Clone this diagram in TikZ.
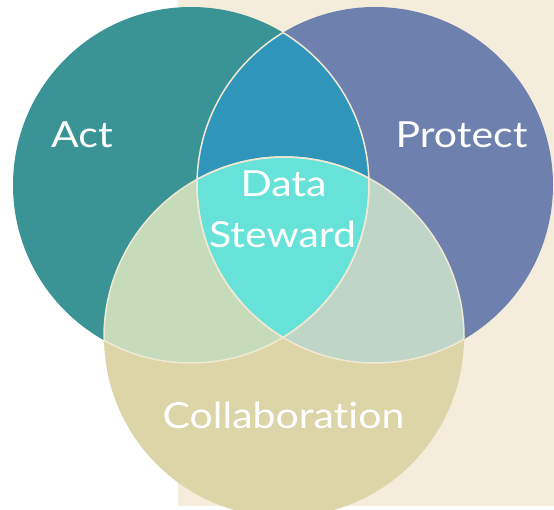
\documentclass[tikz,border=0pt]{standalone}
\usepackage{fontspec}
\setmainfont{Lato}[FakeStretch=1.14,Ligatures=NoCommon]
\usepackage{tikz}

\definecolor{actTeal}{HTML}{3A9394}
\definecolor{protectBlue}{HTML}{6E81AE}
\definecolor{collabKhaki}{HTML}{DBD5A8}
\definecolor{apBlue}{HTML}{2F95BA}
\definecolor{acGreen}{HTML}{C6DBB9}
\definecolor{pcGreen}{HTML}{BFD5C8}
\definecolor{stewardCyan}{HTML}{66E2D8}
\definecolor{paperBeige}{HTML}{F5EDDC}
\definecolor{edgeCream}{HTML}{F1E8D3}

\newcommand{\circAct}{(191,324) circle (178)}
\newcommand{\circProtect}{(375,324) circle (178)}
\newcommand{\circCollab}{(284,172) circle (180)}
\newcommand{\drawLens}[3]{% clip: #1, filled circle: #2, colour: #3
  \begin{scope}
    \clip #1;
    \fill[#3] #2;
  \end{scope}
}
\newcommand{\drawEdge}[2]{% edge of #1 inside #2
  \begin{scope}
    \clip #2;
    \draw[edgeCream,line width=1.5pt] #1;
  \end{scope}
}

\begin{document}
\begin{tikzpicture}[x=1pt,y=1pt,
  vennText/.style={text=white,font=\fontsize{36}{36}\selectfont,anchor=base}]
% Page and background
\useasboundingbox (0,0) rectangle (554,509);
\clip (0,0) rectangle (554,509);
\fill[paperBeige] (178,3) rectangle (554,509);

% Circles
\fill[actTeal] \circAct;
\fill[protectBlue] \circProtect;
\fill[collabKhaki] \circCollab;

% Pairwise overlaps
\drawLens{\circAct}{\circProtect}{apBlue}
\drawLens{\circAct}{\circCollab}{acGreen}
\drawLens{\circProtect}{\circCollab}{pcGreen}

% Centre
\begin{scope}
  \clip \circAct;
  \clip \circProtect;
  \fill[stewardCyan] \circCollab;
\end{scope}

% Inner edges
\drawEdge{\circAct}{\circProtect}
\drawEdge{\circAct}{\circCollab}
\drawEdge{\circProtect}{\circAct}
\drawEdge{\circProtect}{\circCollab}
\drawEdge{\circCollab}{\circAct}
\drawEdge{\circCollab}{\circProtect}

% Labels
\node[vennText] (act) at (82,361) {Act};
\node[vennText] (protect) at (461.5,361) {Protect};
\node[vennText] (data) at (283.5,312) {Data};
\node[vennText] (steward) at (282.5,261) {Steward};
\node[vennText] (collab) at (283.5,81) {Collaboration};
\end{tikzpicture}
\end{document}
